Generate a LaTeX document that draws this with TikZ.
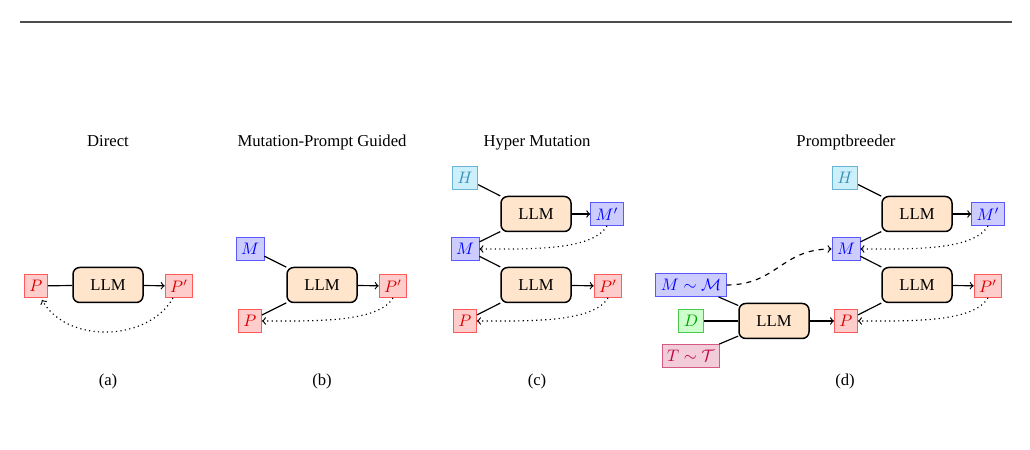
\documentclass[tikz,border=0pt]{standalone}
\usepackage{fontspec}
\setmainfont{Liberation Serif}
\usetikzlibrary{calc}
\begin{document}
\begin{tikzpicture}[x=0.6pt,y=-0.6pt,
  box/.style={draw, rectangle, minimum height=13.8pt, inner xsep=3pt, inner ysep=0pt, line width=0.55pt},
  pbox/.style={box, fill=red!20, draw=red!65, text=red!85!black},
  mbox/.style={box, fill=blue!20, draw=blue!65, text=blue},
  hbox/.style={box, fill=cyan!20, draw=cyan!75!black!70, text=cyan!70!black},
  dbox/.style={box, fill=green!20, draw=green!70!black!70, text=green!65!black},
  tbox/.style={box, fill=purple!20, draw=purple!65, text=purple},
  llm/.style={draw, rounded corners=4pt, fill=orange!20, minimum width=42pt, minimum height=21pt, line width=0.9pt},
  conn/.style={line width=0.7pt},
  arr/.style={line width=0.7pt,->},
  fb/.style={line width=0.7pt,dotted,->},
  dsh/.style={line width=0.7pt,dashed,->},
  lbl/.style={inner sep=0pt, anchor=base}
]
\useasboundingbox (0,0) rectangle (1030,450);
\draw[line width=0.8pt, black!70] (20,22) -- (1012,22);

% (a) Direct
\node[lbl] (ta) at (108,147) {Direct};
\node[pbox] (Pa) at (36,286) {$P$};
\node[llm] (La) at (108,285) {LLM};
\node[pbox] (Ppa) at (179,286) {$P'$};
\draw[conn] (Pa) -- (La);
\draw[arr] (La) -- (Ppa);
\draw[fb] ($(Ppa.south)+(-6,0)$) .. controls +(-25,44) and +(25,44) .. ($(Pa.south)+(6,2)$);
\node[lbl] (ca) at (108,386) {(a)};

% (b) Mutation-Prompt Guided
\node[lbl] (tb) at (322,147) {Mutation-Prompt Guided};
\node[mbox] (Mb) at (250,249) {$M$};
\node[llm] (Lb) at (322,285) {LLM};
\node[pbox] (Ppb) at (393,286) {$P'$};
\node[pbox] (Pb) at (250,321) {$P$};
\draw[conn] (Mb) -- (Lb);
\draw[conn] (Lb) -- (Pb);
\draw[arr] (Lb) -- (Ppb);
\draw[fb] (Ppb.south) .. controls +(-15,25) and +(50,0) .. (Pb.east);
\node[lbl] (cb) at (322,386) {(b)};

% (c) Hyper Mutation
\node[lbl] (tc) at (537,147) {Hyper Mutation};
\node[hbox] (Hc) at (465,178) {$H$};
\node[llm] (L1c) at (536,214) {LLM};
\node[mbox] (Mpc) at (607,214) {$M'$};
\node[mbox] (Mc) at (465,249) {$M$};
\node[llm] (L2c) at (536,285) {LLM};
\node[pbox] (Ppc) at (608,286) {$P'$};
\node[pbox] (Pc) at (465,321) {$P$};
\draw[conn] (Hc) -- (L1c);
\draw[conn] (L1c) -- (Mc);
\draw[arr] (L1c) -- (Mpc);
\draw[fb] (Mpc.south) .. controls +(-15,25) and +(50,0) .. (Mc.east);
\draw[conn] (Mc) -- (L2c);
\draw[conn] (L2c) -- (Pc);
\draw[arr] (L2c) -- (Ppc);
\draw[fb] (Ppc.south) .. controls +(-15,25) and +(50,0) .. (Pc.east);
\node[lbl] (cc) at (537,386) {(c)};

% (d) Promptbreeder
\node[lbl] (td) at (846,147) {Promptbreeder};
\node[hbox] (Hd) at (845,178) {$H$};
\node[llm] (L1d) at (917,214) {LLM};
\node[mbox] (Mpd) at (988,214) {$M'$};
\node[mbox] (Md) at (846,249) {$M$};
\node[llm] (L2d) at (917,285) {LLM};
\node[pbox] (Ppd) at (988,286) {$P'$};
\node[mbox] (MMd) at (691,285) {$M\sim\mathcal{M}$};
\node[llm] (L3d) at (774,321) {LLM};
\node[dbox] (Dd) at (691,321) {$D$};
\node[pbox] (Pd) at (846,321) {$P$};
\node[tbox] (Td) at (691,356) {$T\sim\mathcal{T}$};
\draw[conn] (Hd) -- (L1d);
\draw[conn] (L1d) -- (Md);
\draw[arr] (L1d) -- (Mpd);
\draw[fb] (Mpd.south) .. controls +(-15,25) and +(50,0) .. (Md.east);
\draw[conn] (Md) -- (L2d);
\draw[conn] (L2d) -- (Pd);
\draw[arr] (L2d) -- (Ppd);
\draw[fb] (Ppd.south) .. controls +(-15,25) and +(50,0) .. (Pd.east);
\draw[conn] (MMd) -- (L3d);
\draw[conn] (Dd) -- (L3d);
\draw[conn] (Td) -- (L3d);
\draw[arr] (L3d) -- (Pd);
\draw[dsh] (MMd.east) .. controls +(50,0) and +(-50,0) .. (Md.west);
\node[lbl] (cd) at (845,386) {(d)};
\end{tikzpicture}
\end{document}
